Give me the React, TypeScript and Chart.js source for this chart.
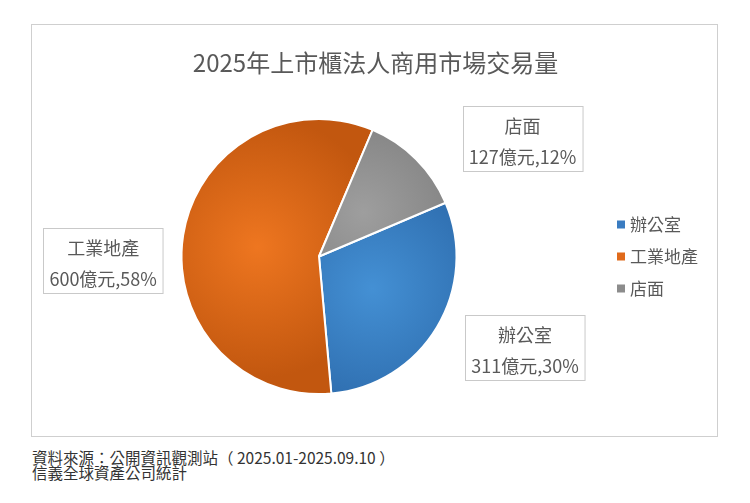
import React, { useEffect, useRef } from "react";
import { Chart, registerables } from "chart.js";

Chart.register(...registerables);

const categories = ["辦公室", "工業地產", "店面"];
const values = [311, 600, 127];
const percents = ["30%", "58%", "12%"];
const valueUnit = "億元";
const titleText = "2025年上市櫃法人商用市場交易量";
const sourceLines = ["資料來源：公開資訊觀測站（ 2025.01-2025.09.10 ）", "信義全球資產公司統計"];

const solidColors = ["#3A7CC1", "#E06A1B", "#8C8C8C"];
const lightColors = ["#4490D4", "#EE7620", "#9E9E9E"];
const darkColors = ["#2C6AAB", "#C2570F", "#7A7A7A"];
// label placement: angular nudge (deg) and distance (in radii) from pie centre
const labelNudge = [-7, -10, 15];
const labelDist = [1.64, 1.57, 1.71];

const ROTATION = 67;
const FONT = "'Noto Sans CJK TC', 'Noto Sans', sans-serif";

function midAngle(i: number) {
  const total = values.reduce((a, b) => a + b, 0);
  let cum = 0;
  for (let j = 0; j < i; j++) cum += values[j];
  const start = ((ROTATION - 90) * Math.PI) / 180 + (cum / total) * Math.PI * 2;
  return start + (values[i] / total) * Math.PI;
}

const titlePlugin = {
  id: "centredTitle",
  afterDraw(chart: any) {
    const ctx = chart.ctx;
    ctx.save();
    ctx.font = `24px ${FONT}`;
    ctx.fillStyle = "#595959";
    ctx.textAlign = "center";
    ctx.textBaseline = "middle";
    ctx.fillText(titleText, chart.width / 2 + 1, 38);
    ctx.restore();
  },
};

const labelPlugin = {
  id: "calloutLabels",
  afterDatasetsDraw(chart: any) {
    const ctx = chart.ctx;
    const meta = chart.getDatasetMeta(0);
    ctx.save();
    ctx.font = `18px ${FONT}`;
    meta.data.forEach((arc: any, i: number) => {
      const p = arc.getProps(["x", "y", "startAngle", "endAngle", "outerRadius"], true);
      const mid = (p.startAngle + p.endAngle) / 2 + (labelNudge[i] * Math.PI) / 180;
      const cx = p.x + Math.cos(mid) * labelDist[i] * p.outerRadius;
      const cy = p.y + Math.sin(mid) * labelDist[i] * p.outerRadius;
      const l1 = categories[i];
      const l2 = `${values[i]}${valueUnit},${percents[i]}`;
      const w = Math.max(ctx.measureText(l1).width, ctx.measureText(l2).width) + 12;
      const h = 65;
      const x0 = Math.round(cx - w / 2) + 0.5;
      const y0 = Math.round(cy - h / 2) + 0.5;
      ctx.fillStyle = "#FFFFFF";
      ctx.fillRect(x0, y0, w, h);
      ctx.strokeStyle = "#C9C9C9";
      ctx.lineWidth = 1;
      ctx.strokeRect(x0, y0, w, h);
      ctx.fillStyle = "#595959";
      ctx.textAlign = "center";
      ctx.textBaseline = "middle";
      ctx.fillText(l1, cx, y0 + 20);
      ctx.fillText(l2, cx, y0 + 51);
    });
    ctx.restore();
  },
};

const legendPlugin = {
  id: "sideLegend",
  afterDraw(chart: any) {
    const ctx = chart.ctx;
    const ca = chart.chartArea;
    const cy = (ca.top + ca.bottom) / 2;
    const x = ca.right + 11;
    const step = 32;
    ctx.save();
    ctx.font = `17px ${FONT}`;
    ctx.textBaseline = "middle";
    ctx.textAlign = "left";
    categories.forEach((c, i) => {
      const y = cy + (i - 1) * step;
      ctx.fillStyle = solidColors[i];
      ctx.fillRect(x, y - 4, 8, 8);
      ctx.fillStyle = "#595959";
      ctx.fillText(c, x + 13, y);
    });
    ctx.restore();
  },
};

export default function App() {
  const ref = useRef<HTMLCanvasElement>(null);
  useEffect(() => {
    if (!ref.current) return;
    const chart = new Chart(ref.current, {
      type: "pie",
      data: {
        labels: categories,
        datasets: [
          {
            data: values,
            borderColor: "#FFFFFF",
            borderWidth: 2,
            backgroundColor: (c: any) => {
              const ch = c.chart;
              const ca = ch.chartArea;
              const i = c.dataIndex;
              if (!ca || i === undefined) return solidColors[i ?? 0];
              const cx = (ca.left + ca.right) / 2;
              const cy = (ca.top + ca.bottom) / 2;
              const r = Math.min(ca.width, ca.height) / 2;
              const m = midAngle(i);
              const gx = cx + Math.cos(m) * r * 0.45;
              const gy = cy + Math.sin(m) * r * 0.45;
              const g = ch.ctx.createRadialGradient(gx, gy, 0, gx, gy, r * 0.95);
              g.addColorStop(0, lightColors[i]);
              g.addColorStop(1, darkColors[i]);
              return g;
            },
          },
        ],
      },
      options: {
        responsive: false,
        animation: false,
        rotation: ROTATION,
        layout: { padding: { left: 0, right: 111, top: 93, bottom: 41 } },
        plugins: {
          legend: { display: false },
          tooltip: { enabled: false },
          title: { display: false },
        },
      } as any,
      plugins: [titlePlugin, labelPlugin, legendPlugin],
    });
    return () => chart.destroy();
  }, []);

  return (
    <div style={{ position: "absolute", left: 0, top: 0, width: 750, height: 503, background: "#FFFFFF" }}>
      <div
        style={{
          position: "absolute",
          left: 31,
          top: 24,
          width: 685,
          height: 411,
          border: "1px solid #CFCFCF",
        }}
      >
        <canvas ref={ref} width={685} height={411} style={{ display: "block" }} />
      </div>
      <div
        style={{
          position: "absolute",
          left: 32,
          top: 450,
          fontFamily: FONT,
          fontSize: 15.5,
          lineHeight: "15px",
          color: "#333333",
          whiteSpace: "nowrap",
        }}
      >
        {sourceLines.map((s, i) => (
          <div key={i}>{s}</div>
        ))}
      </div>
    </div>
  );
}
